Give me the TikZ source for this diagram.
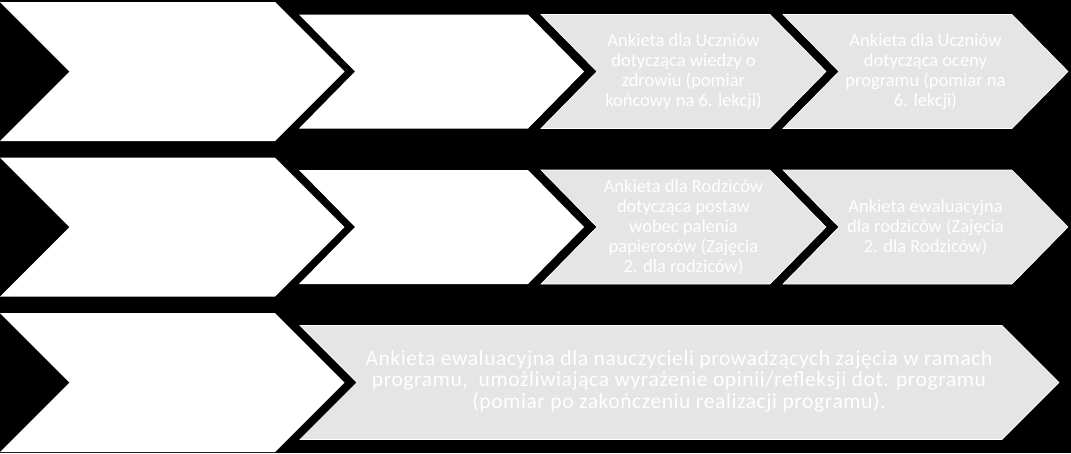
\documentclass[tikz,border=0pt]{standalone}
\usepackage{fontspec}
\setmainfont{Carlito}
\newfontfamily\widefont[LetterSpace=2.8]{Carlito}

\begin{document}
\begin{tikzpicture}[x=1pt,y=-1pt]
\tikzstyle{plain chevron}=[fill=white]
\tikzstyle{survey chevron}=[fill=black!10,draw=white,line width=0.6pt]
\tikzstyle{survey text}=[text=white,align=center,inner sep=0pt,font=\fontsize{18.5}{20}\selectfont]
\tikzstyle{teacher text}=[survey text,font=\widefont\fontsize{21.5}{21.5}\selectfont]

% background
\fill[black] (0,0) rectangle (1071,453);
\useasboundingbox (0,0) rectangle (1071,453);

% row 1: pupils
\path[plain chevron] (0,2) -- (275,2) -- (344.5,71.5) -- (275,141) -- (0,141) -- (69.5,71.5) -- cycle;
\path[plain chevron] (299,14.5) -- (528,14.5) -- (584,71.5) -- (528,128.5) -- (299,128.5) -- (355,71.5) -- cycle;
\path[survey chevron] (541,14.5) -- (770,14.5) -- (826,71.5) -- (770,128.5) -- (541,128.5) -- (597,71.5) -- cycle;
\path[survey chevron] (783,14.5) -- (1012,14.5) -- (1068,71.5) -- (1012,128.5) -- (783,128.5) -- (839,71.5) -- cycle;

\node[survey text] (u1) at (683.5,71.5) {Ankieta dla Uczniów\\dotycząca wiedzy o\\zdrowiu (pomiar\\końcowy na 6. lekcji)};
\node[survey text] (u2) at (925.5,71.5) {Ankieta dla Uczniów\\dotycząca oceny\\programu (pomiar na\\6. lekcji)};

% row 2: parents
\path[plain chevron] (0,157.5) -- (275,157.5) -- (344.5,227) -- (275,296.5) -- (0,296.5) -- (69.5,227) -- cycle;
\path[plain chevron] (299,170) -- (528,170) -- (584,227) -- (528,284) -- (299,284) -- (355,227) -- cycle;
\path[survey chevron] (541,170) -- (770,170) -- (826,227) -- (770,284) -- (541,284) -- (597,227) -- cycle;
\path[survey chevron] (783,170) -- (1012,170) -- (1068,227) -- (1012,284) -- (783,284) -- (839,227) -- cycle;

\node[survey text] (r1) at (683.5,227) {Ankieta dla Rodziców\\dotycząca postaw\\wobec palenia\\papierosów (Zajęcia\\2. dla rodziców)};
\node[survey text] (r2) at (925.5,227) {Ankieta ewaluacyjna\\dla rodziców (Zajęcia\\2. dla Rodziców)};

% row 3: teachers
\path[plain chevron] (0,313) -- (275,313) -- (344.5,382.5) -- (275,452) -- (0,452) -- (69.5,382.5) -- cycle;
\path[survey chevron] (300,325.5) -- (1002,325.5) -- (1059,382.5) -- (1002,439.5) -- (300,439.5) -- (357,382.5) -- cycle;

\node[teacher text] (n1) at (679,381) {Ankieta ewaluacyjna dla nauczycieli prowadzących zajęcia w ramach\\programu,\ \ umożliwiająca wyrażenie opinii/refleksji dot. programu\\(pomiar po zakończeniu realizacji programu).};

\end{tikzpicture}
\end{document}
